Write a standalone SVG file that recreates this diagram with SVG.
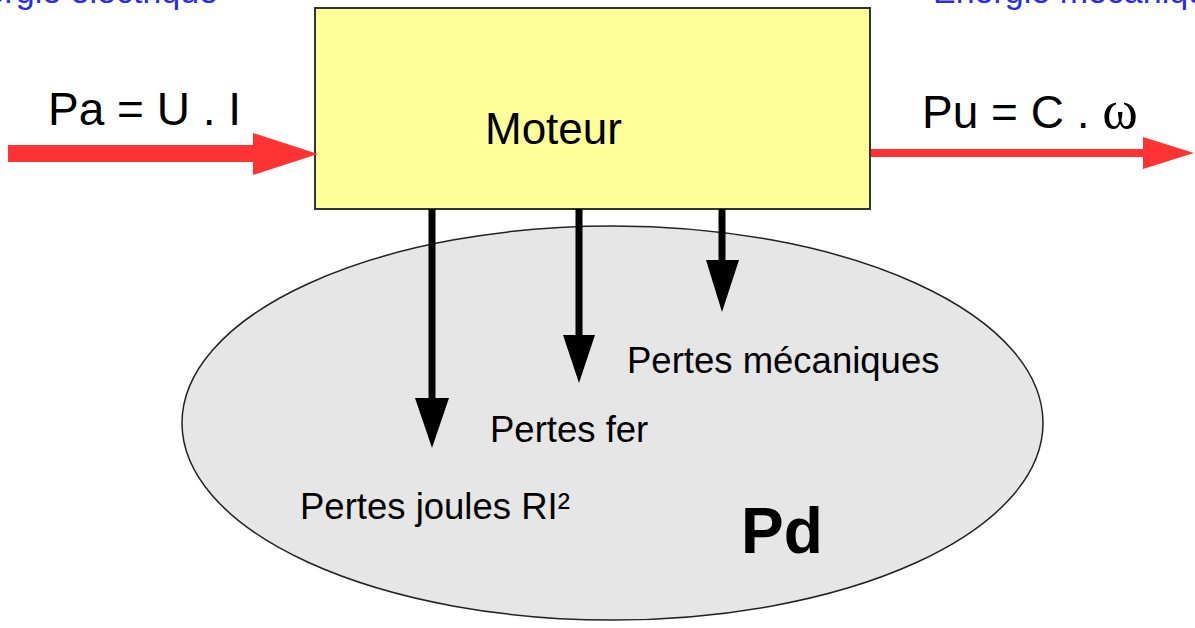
<svg xmlns="http://www.w3.org/2000/svg" width="1195" height="628" viewBox="0 0 1195 628">
<style>
text{font-family:"Liberation Sans",Arial,sans-serif;fill:#000}
.blue{fill:#2b2be8;font-size:34px}
.red{fill:#ff3333}
.loss{font-size:36.5px}
.big{font-size:46px}
.shaft{stroke:#000;stroke-width:7;fill:none}
.head{fill:#000}
</style>
<rect width="1195" height="628" fill="#fff"/>
<text class="blue" x="218" y="3" text-anchor="end">Energie électrique</text>
<text class="blue" x="933" y="3">Energie mécanique</text>
<g id="pertes">
<ellipse cx="612.5" cy="423" rx="430.5" ry="197" fill="#e6e6e6" stroke="#222" stroke-width="1.5"/>
<text class="loss" x="627" y="373">Pertes mécaniques</text>
<text class="loss" x="490" y="442">Pertes fer</text>
<text class="loss" x="300" y="519">Pertes joules RI²</text>
<text x="741" y="553" font-size="64" font-weight="bold">Pd</text>
</g>
<g id="moteur">
<rect x="315" y="8" width="555" height="201" fill="#ffff99" stroke="#333" stroke-width="2"/>
<text x="485" y="144" font-size="44">Moteur</text>
</g>
<g id="connectors">
<polygon class="red" points="8,145 253,145 253,133 318,154 253,175 253,162 8,162"/>
<polygon class="red" points="871,149 1143,149 1143,137 1194,153 1143,169 1143,157 871,157"/>
<line class="shaft" x1="432" y1="209" x2="432" y2="400"/>
<polygon class="head" points="415,398 449,398 432,448"/>
<line class="shaft" x1="579" y1="209" x2="579" y2="337"/>
<polygon class="head" points="563,335 595,335 579,383"/>
<line class="shaft" x1="722" y1="209" x2="722" y2="262"/>
<polygon class="head" points="706,260 739,260 722,312"/>
</g>
<text class="big" x="48" y="125">Pa = U . I</text>
<text class="big" x="922" y="128">Pu = C . <tspan font-family="Liberation Serif" font-size="54">ω</tspan></text>
</svg>
